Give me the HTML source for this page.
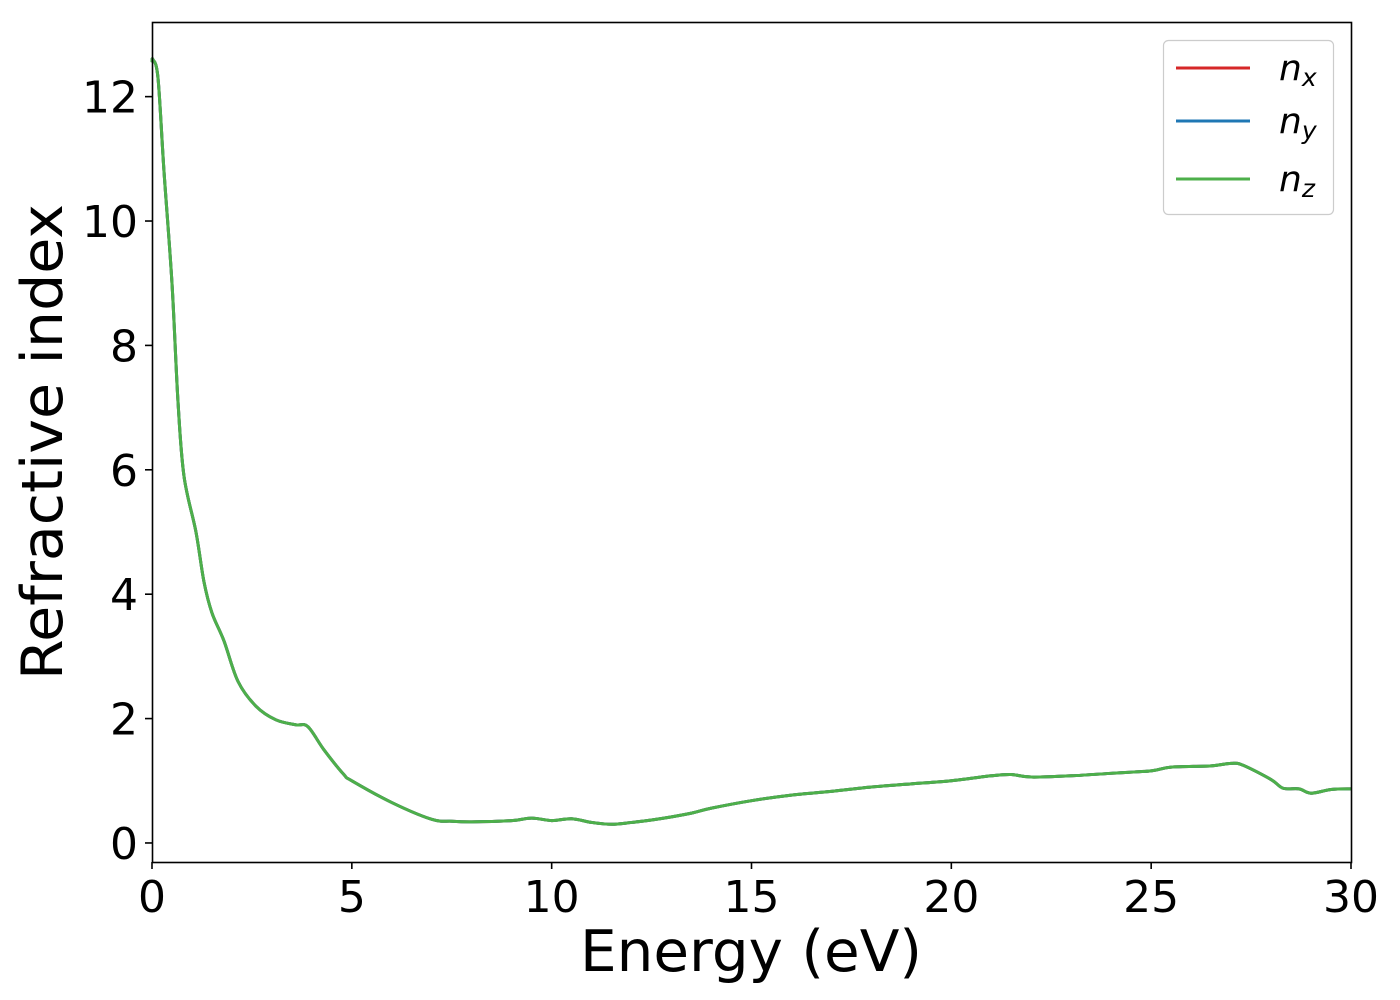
<!DOCTYPE html>
<html><head><meta charset="utf-8"><style>
html,body{margin:0;padding:0;background:#fff;}
svg{display:block;font-family:"DejaVu Sans","Liberation Sans",sans-serif;}
</style></head><body>
<svg id="chart" width="1400" height="1000" viewBox="0 0 1400 1000" xmlns="http://www.w3.org/2000/svg">
<rect width="1400" height="1000" fill="#fff"/>
<g id="ticks"></g>
<g id="series"></g>
<rect x="152.5" y="22.5" width="1199" height="840" fill="none" stroke="#000" stroke-width="1.6"/>
<text x="751" y="971" font-size="57" text-anchor="middle" textLength="342" lengthAdjust="spacingAndGlyphs">Energy (eV)</text>
<text transform="translate(62,442) rotate(-90)" font-size="57" text-anchor="middle" textLength="476" lengthAdjust="spacingAndGlyphs">Refractive index</text>
<g>
<rect x="1163.5" y="40.5" width="170" height="174" rx="5" fill="#fff" stroke="#ccc" stroke-width="1.2"/>
<g><line x1="1176" y1="68" x2="1250" y2="68" stroke="#d62728" stroke-width="3"/><text x="1279" y="80" font-size="36" font-style="italic">n<tspan font-size="25" dy="6">x</tspan></text></g>
<g><line x1="1176" y1="121" x2="1250" y2="121" stroke="#1f77b4" stroke-width="3"/><text x="1279" y="133" font-size="36" font-style="italic">n<tspan font-size="25" dy="6">y</tspan></text></g>
<g><line x1="1176" y1="179" x2="1250" y2="179" stroke="#4daf4a" stroke-width="3"/><text x="1279" y="191" font-size="36" font-style="italic">n<tspan font-size="25" dy="6">z</tspan></text></g>
</g>
</svg>
<script>
const energy = [0,0.02,0.15,0.3,0.5,0.65,0.8,1.1,1.3,1.5,1.8,2.15,2.6,3.1,3.6,3.9,4.3,4.8,5,6,7,7.5,8,9,9.5,10,10.5,11,11.5,12,12.5,13,13.5,14,15,16,17,18,19,20,21,21.5,22,23,24,25,25.5,26.5,27,27.3,28,28.3,28.7,29,29.5,30];
const nValues = [12.55,12.6,12.3,10.8,9.0,7.1,5.9,5.0,4.2,3.7,3.25,2.6,2.2,1.98,1.9,1.87,1.5,1.1,1.0,0.65,0.38,0.35,0.34,0.36,0.4,0.36,0.39,0.33,0.3,0.33,0.37,0.42,0.48,0.56,0.68,0.77,0.83,0.9,0.95,1.0,1.08,1.1,1.06,1.08,1.12,1.16,1.22,1.24,1.28,1.25,1.02,0.88,0.87,0.8,0.86,0.87];
const xTicks = [0,5,10,15,20,25,30];
const yTicks = [0,2,4,6,8,10,12];
const seriesNames = ['n-x','n-y','n-z'];
const seriesColors = ['#d62728','#1f77b4','#4daf4a'];

const X0=152, X1=1351, Y0=862, Y1=22;
const xMin=0, xMax=30, yMin=-0.306, yMax=13.2;
function sx(v){return X0+(v-xMin)/(xMax-xMin)*(X1-X0);}
function sy(v){return Y0-(v-yMin)/(yMax-yMin)*(Y0-Y1);}
const NS='http://www.w3.org/2000/svg';
const tg=document.getElementById('ticks');
xTicks.forEach(t=>{
  const l=document.createElementNS(NS,'line');
  l.setAttribute('x1',sx(t));l.setAttribute('x2',sx(t));l.setAttribute('y1',Y0);l.setAttribute('y2',Y0+7);
  l.setAttribute('stroke','#000');l.setAttribute('stroke-width','1.6');
  
  
  tg.appendChild(l);
  const tx=document.createElementNS(NS,'text');
  tx.setAttribute('x',sx(t));tx.setAttribute('y',Y0+50);tx.setAttribute('font-size','44');tx.setAttribute('text-anchor','middle');
  tx.textContent=t;
  
  
  tg.appendChild(tx);
});
yTicks.forEach(t=>{
  const l=document.createElementNS(NS,'line');
  l.setAttribute('x1',X0-7);l.setAttribute('x2',X0);l.setAttribute('y1',sy(t));l.setAttribute('y2',sy(t));
  l.setAttribute('stroke','#000');l.setAttribute('stroke-width','1.6');
  
  
  tg.appendChild(l);
  const tx=document.createElementNS(NS,'text');
  tx.setAttribute('x',X0-14);tx.setAttribute('y',sy(t)+16);tx.setAttribute('font-size','44');tx.setAttribute('text-anchor','end');
  tx.textContent=t;
  
  
  tg.appendChild(tx);
});
const sg=document.getElementById('series');
const pts=energy.map((e,i)=>[sx(e),sy(nValues[i])]);
let d='M'+pts[0][0]+','+pts[0][1];
for(let i=0;i<pts.length-1;i++){
  const p0=pts[Math.max(0,i-1)],p1=pts[i],p2=pts[i+1],p3=pts[Math.min(pts.length-1,i+2)];
  const c1=[p1[0]+(p2[0]-p0[0])/6,p1[1]+(p2[1]-p0[1])/6];
  const c2=[p2[0]-(p3[0]-p1[0])/6,p2[1]-(p3[1]-p1[1])/6];
  d+=' C'+c1[0]+','+c1[1]+' '+c2[0]+','+c2[1]+' '+p2[0]+','+p2[1];
}
seriesNames.forEach((nm,k)=>{
  const p=document.createElementNS(NS,'path');
  p.setAttribute('d',d);p.setAttribute('fill','none');p.setAttribute('stroke',seriesColors[k]);
  p.setAttribute('stroke-width','3');p.setAttribute('stroke-linejoin','round');
  
  
  sg.appendChild(p);
});
</script>
</body></html>
